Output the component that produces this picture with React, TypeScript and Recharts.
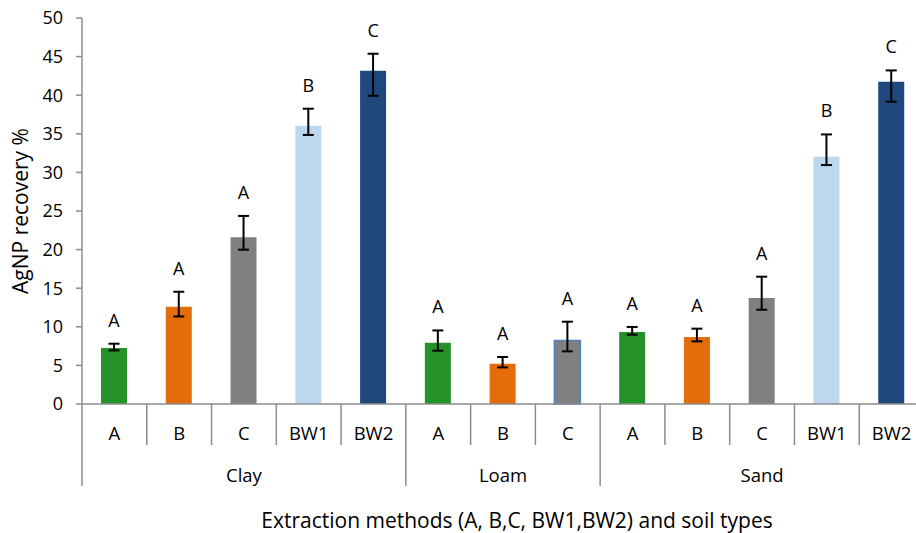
import { Bar, BarChart, Cell, ErrorBar, Label, LabelList, XAxis, YAxis } from 'recharts';

// soil groups and the extraction methods tested in each
const soils = ['Clay', 'Loam', 'Sand'];
const soilMethods = [
  ['A', 'B', 'C', 'BW1', 'BW2'],
  ['A', 'B', 'C'],
  ['A', 'B', 'C', 'BW1', 'BW2'],
];

// AgNP recovery %, in the order Clay A..BW2, Loam A..C, Sand A..BW2
const recovery = [7.25, 12.6, 21.6, 36.05, 43.17, 7.94, 5.22, 8.24, 9.33, 8.68, 13.73, 32.03, 41.75];
const errLow = [0.31, 1.26, 1.61, 1.2, 3.24, 1.04, 0.48, 1.42, 0.35, 0.57, 1.52, 1.08, 2.59];
const errHigh = [0.56, 1.94, 2.76, 2.2, 2.2, 1.59, 0.87, 2.42, 0.65, 1.08, 2.76, 2.89, 1.46];
const letters = ['A', 'A', 'A', 'B', 'C', 'A', 'A', 'A', 'A', 'A', 'A', 'B', 'C'];
const yTicks = [0, 5, 10, 15, 20, 25, 30, 35, 40, 45, 50];

const methodColors: Record<string, string> = {
  A: '#249228',
  B: '#E46C0A',
  C: '#808080',
  BW1: '#BDD7EE',
  BW2: '#1F497D',
};

const AXIS = '#8c8c8c';
const FONT = '"Open Sans", sans-serif';
const CHART_W = 924;
const CHART_H = 533;
const TOP = 18;
const Y_W = 82;
const X_H = 129;
const PLOT_H = CHART_H - TOP - X_H;
const BAND = (CHART_W - Y_W) / 13;
const OUTLINED = 7; // Loam C has a blue border in the original

const rows = soils.flatMap((soil, g) =>
  soilMethods[g].map((method, j) => ({ soil, method, groupStart: j === 0, groupSize: soilMethods[g].length })),
).map((r, i) => ({
  ...r,
  id: `${r.soil}-${r.method}`,
  value: recovery[i],
  err: [errLow[i], errHigh[i]],
  letter: letters[i],
}));

function MethodTick(props: any) {
  const { x, y, payload } = props;
  const i = payload?.index ?? props.index;
  const row = rows[i];
  const half = payload?.offset || BAND / 2;
  const left = x - half;
  return (
    <g>
      <line x1={left} x2={left} y1={y} y2={y + (row.groupStart ? 82 : 41)} stroke={AXIS} strokeWidth={1.5} />
      {i === rows.length - 1 && (
        <line x1={left + half * 2} x2={left + half * 2} y1={y} y2={y + 82} stroke={AXIS} strokeWidth={1.5} />
      )}
      <text x={x} y={y + 28} textAnchor="middle" dominantBaseline="central" fontSize={18.5} fontFamily={FONT} fill="#000">
        {row.method}
      </text>
      {row.groupStart && (
        <text
          x={left + row.groupSize * half}
          y={y + 70}
          textAnchor="middle"
          dominantBaseline="central"
          fontSize={18.5}
          fontFamily={FONT}
          fill="#000"
        >
          {row.soil}
        </text>
      )}
    </g>
  );
}

function LetterLabel(props: any) {
  const { x, y, width, index } = props;
  const top = Number(y) - errHigh[index] * (PLOT_H / 50);
  return (
    <text
      x={Number(x) + Number(width) / 2}
      y={top - 24}
      textAnchor="middle"
      dominantBaseline="central"
      fontSize={18}
      fontFamily={FONT}
      fill="#000"
    >
      {letters[index]}
    </text>
  );
}

export default function App() {
  return (
    <div
      style={{
        position: 'absolute',
        left: 0,
        top: 0,
        width: 916,
        height: 533,
        overflow: 'hidden',
        background: '#fff',
        fontFamily: FONT,
      }}
    >
      <BarChart width={CHART_W} height={CHART_H} data={rows} margin={{ top: TOP, right: 0, left: 0, bottom: 0 }}>
        <YAxis
          width={Y_W}
          domain={[0, 50]}
          ticks={yTicks}
          interval={0}
          tickSize={6}
          tickMargin={13}
          axisLine={{ stroke: AXIS, strokeWidth: 1.5 }}
          tickLine={{ stroke: AXIS, strokeWidth: 1.5 }}
          tick={{ fontSize: 18, fill: '#000', fontFamily: FONT }}
        >
          <Label
            content={(p: any) => {
              const vb = p.viewBox || { x: 0, y: TOP, width: Y_W, height: PLOT_H };
              const cx = vb.x + 20;
              const cy = vb.y + vb.height / 2;
              return (
                <text
                  x={cx}
                  y={cy}
                  transform={`rotate(-90 ${cx} ${cy})`}
                  textAnchor="middle"
                  dominantBaseline="central"
                  fontSize={21}
                  fontFamily={FONT}
                  fill="#000"
                >
                  AgNP recovery %
                </text>
              );
            }}
          />
        </YAxis>
        <XAxis
          dataKey="id"
          height={X_H}
          interval={0}
          tickSize={0}
          tickMargin={0}
          tickLine={false}
          axisLine={{ stroke: AXIS, strokeWidth: 1.5 }}
          tick={<MethodTick />}
        >
          <Label
            value="Extraction methods (A, B,C, BW1,BW2) and soil types"
            position="insideBottom"
            offset={5}
            dx={14}
            style={{ fontSize: 21, fontFamily: FONT, fill: '#000' }}
          />
        </XAxis>
        <Bar dataKey="value" barSize={26} isAnimationActive={false}>
          {rows.map((r, i) => (
            <Cell
              key={r.id}
              fill={methodColors[r.method]}
              stroke={i === OUTLINED ? '#4F81BD' : 'none'}
              strokeWidth={i === OUTLINED ? 1.5 : 0}
            />
          ))}
          <ErrorBar dataKey="err" width={5.5} strokeWidth={2} stroke="#000" direction="y" isAnimationActive={false} />
          <LabelList dataKey="letter" content={<LetterLabel />} />
        </Bar>
      </BarChart>
    </div>
  );
}
